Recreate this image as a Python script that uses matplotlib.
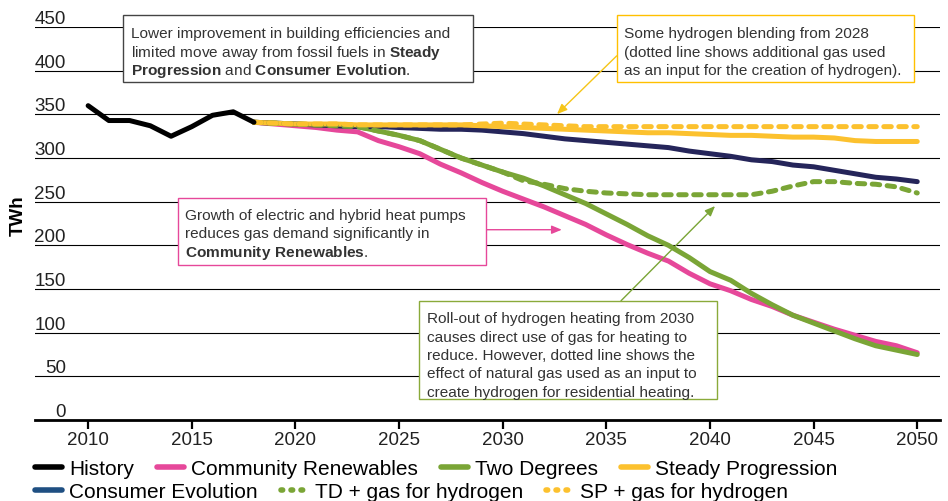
import matplotlib
matplotlib.use("Agg")
import matplotlib.pyplot as plt
from matplotlib.lines import Line2D
from matplotlib.patches import Rectangle
from matplotlib.transforms import blended_transform_factory

plt.rcParams['font.family'] = ['Liberation Sans', 'DejaVu Sans']
plt.rcParams['mathtext.fontset'] = 'custom'
plt.rcParams['mathtext.rm'] = 'Liberation Sans'
plt.rcParams['mathtext.bf'] = 'Liberation Sans:bold'

# --- data (TWh) ---
hist_years = [2010, 2011, 2012, 2013, 2014, 2015, 2016, 2017, 2018]
history = [360, 343, 343, 337, 325, 336, 349, 353, 341]

proj_years = list(range(2018, 2051))
community_renewables = [341, 339, 337, 335, 332, 330, 320, 313, 305, 293, 283,
                        272, 262, 253, 244, 234, 224, 212, 201, 191, 182, 168,
                        156, 148, 138, 130, 120, 112, 104, 97, 90, 85, 77]
two_degrees = [341, 340, 339, 338, 337, 336, 331, 326, 320, 310, 300,
               292, 284, 277, 268, 258, 248, 236, 224, 211, 200, 186,
               170, 160, 145, 132, 120, 111, 102, 93, 85, 80, 75]
steady_progression = [341, 340, 339, 339, 339, 338, 338, 338, 338, 338, 338,
                      337, 336, 335, 334, 333, 332, 331, 330, 329, 329, 328,
                      327, 326, 326, 325, 324, 324, 323, 320, 319, 319, 319]
consumer_evolution = [341, 340, 339, 338, 337, 336, 336, 335, 334, 333, 333,
                      332, 330, 328, 325, 322, 320, 318, 316, 314, 312, 308,
                      305, 302, 298, 296, 292, 290, 286, 282, 278, 276, 273]
td_gas_hydrogen = [341, 340, 339, 338, 337, 336, 331, 326, 320, 310, 300,
                   292, 284, 274, 270, 265, 262, 260, 259, 258, 258, 258,
                   258, 258, 258, 262, 268, 273, 273, 271, 270, 267, 260]
sp_gas_hydrogen = [341, 340, 339, 339, 339, 338, 338, 338, 338, 338, 338,
                   339, 340, 339, 338, 337, 336, 336, 336, 336, 336, 336,
                   336, 336, 336, 336, 336, 336, 336, 336, 336, 336, 336]

x_ticks = [2010, 2015, 2020, 2025, 2030, 2035, 2040, 2045, 2050]
y_ticks = [0, 50, 100, 150, 200, 250, 300, 350, 400, 450]

BLACK = '#000000'
PINK = '#E6489A'
GREEN = '#7AA536'
YELLOW = '#FCC12E'
NAVY = '#25255A'
NAVY_LEG = '#1F4F82'
TEXT = '#333333'

fig = plt.figure(figsize=(9.48, 5.02), dpi=100)
ax = fig.add_axes([0.037, 0.1614, 0.9546, 0.7826])

lw = 3.6
dash = (1.5, 1.5)
ax.plot(proj_years, community_renewables, color=PINK, lw=lw, solid_capstyle='round', zorder=3)
ax.plot(proj_years, two_degrees, color=GREEN, lw=lw, solid_capstyle='round', zorder=4)
ax.plot(proj_years, consumer_evolution, color=NAVY, lw=lw, solid_capstyle='round', zorder=5)
ax.plot(proj_years, steady_progression, color=YELLOW, lw=lw, solid_capstyle='round', zorder=6)
ax.plot(proj_years, td_gas_hydrogen, color=GREEN, lw=lw, dashes=dash,
        dash_capstyle='round', zorder=7)
ax.plot(proj_years, sp_gas_hydrogen, color=YELLOW, lw=lw, dashes=dash,
        dash_capstyle='round', zorder=8)
ax.plot(hist_years, history, color=BLACK, lw=lw, solid_capstyle='round', zorder=9)

ax.set_xlim(2007.44, 2051.1)
ax.set_ylim(0, 450)
ax.set_xticks(x_ticks)
ax.set_xticklabels([str(x) for x in x_ticks], fontsize=13.5, color='#222222')
ax.tick_params(axis='x', length=6.5, width=1.6, pad=1.5, color=BLACK)
ax.set_yticks(y_ticks)
ax.set_yticklabels([])
ax.tick_params(axis='y', length=0)
ax.yaxis.grid(True, color=BLACK, lw=0.8)
ax.set_axisbelow(True)
for s in ['top', 'right', 'left']:
    ax.spines[s].set_visible(False)
ax.spines['bottom'].set_linewidth(2.0)
ax.spines['bottom'].set_zorder(10)

# y labels sit above the gridlines
trans = blended_transform_factory(ax.transAxes, ax.transData)
for v in y_ticks:
    ax.text(0.034, v, str(v), transform=trans, ha='right', va='bottom',
            fontsize=13.5, color='#222222')

fig.text(0.019, 0.57, 'TWh', rotation=90, ha='center', va='center',
         fontsize=13.5, fontweight='bold')


# annotation boxes (fixed size boxes, text placed line by line)
def note(box, edge, x, y, lines):
    ax.add_patch(Rectangle(box[:2], box[2], box[3], transform=ax.transAxes,
                           fc='white', ec=edge, lw=1, clip_on=False, zorder=12))
    for i, line in enumerate(lines):
        ax.text(x, y - i * 0.0466, line, transform=ax.transAxes, ha='left',
                va='baseline', fontsize=11.1, color=TEXT, zorder=13)


note((0.0969, 0.8608, 0.3867, 0.1697), '#444444', 0.1057, 0.9738,
     ['Lower improvement in building efficiencies and',
      'limited move away from fossil fuels in $\\bf{Steady}$',
      '$\\bf{Progression}$ and $\\bf{Consumer\\ Evolution}$.'])
note((0.6427, 0.8601, 0.3285, 0.1705), '#FFC000', 0.6508, 0.9738,
     ['Some hydrogen blending from 2028',
      '(dotted line shows additional gas used',
      'as an input for the creation of hydrogen).'])
note((0.1577, 0.3944, 0.3407, 0.1705), PINK, 0.1657, 0.5115,
     ['Growth of electric and hybrid heat pumps',
      'reduces gas demand significantly in',
      '$\\bf{Community\\ Renewables}$.'])
note((0.4243, 0.0534, 0.3289, 0.2501), '#8AAA3A', 0.4328, 0.2486,
     ['Roll-out of hydrogen heating from 2030',
      'causes direct use of gas for heating to',
      'reduce. However, dotted line shows the',
      'effect of natural gas used as an input to',
      'create hydrogen for residential heating.'])

arrow = dict(arrowstyle='-|>,head_length=0.6,head_width=0.25', lw=1, shrinkA=0, shrinkB=0)
ax.annotate('', xy=(0.5768, 0.7786), xytext=(0.6427, 0.9268), xycoords='axes fraction',
            arrowprops=dict(arrow, color='#F5C518'), zorder=11)
ax.annotate('', xy=(0.5820, 0.4843), xytext=(0.4984, 0.4843), xycoords='axes fraction',
            arrowprops=dict(arrow, color=PINK), zorder=11)
ax.annotate('', xy=(0.7514, 0.5445), xytext=(0.6475, 0.3035), xycoords='axes fraction',
            arrowprops=dict(arrow, color='#7AA536'), zorder=11)


# legend, two flowing rows
def handle(color, dotted=False):
    if dotted:
        return Line2D([], [], color=color, lw=4, dashes=(0.3, 1.5), dash_capstyle='round')
    return Line2D([], [], color=color, lw=4, solid_capstyle='round')


row1 = [handle(BLACK), handle(PINK), handle(GREEN), handle(YELLOW)]
row1_labels = ['History', 'Community Renewables', 'Two Degrees', 'Steady Progression']
row2 = [handle(NAVY_LEG), handle(GREEN, True), handle(YELLOW, True)]
row2_labels = ['Consumer Evolution', 'TD + gas for hydrogen', 'SP + gas for hydrogen']

leg_kw = dict(loc='upper left', frameon=False, fontsize=15, handlelength=1.3,
              handletextpad=0.33, columnspacing=1.1, borderpad=0, borderaxespad=0)
fig.legend(row1, row1_labels, ncol=4, bbox_to_anchor=(0.037, 0.0837), **leg_kw)
fig.legend(row2, row2_labels, ncol=3, bbox_to_anchor=(0.037, 0.0379), **leg_kw)

plt.savefig('out.png', dpi=100)
